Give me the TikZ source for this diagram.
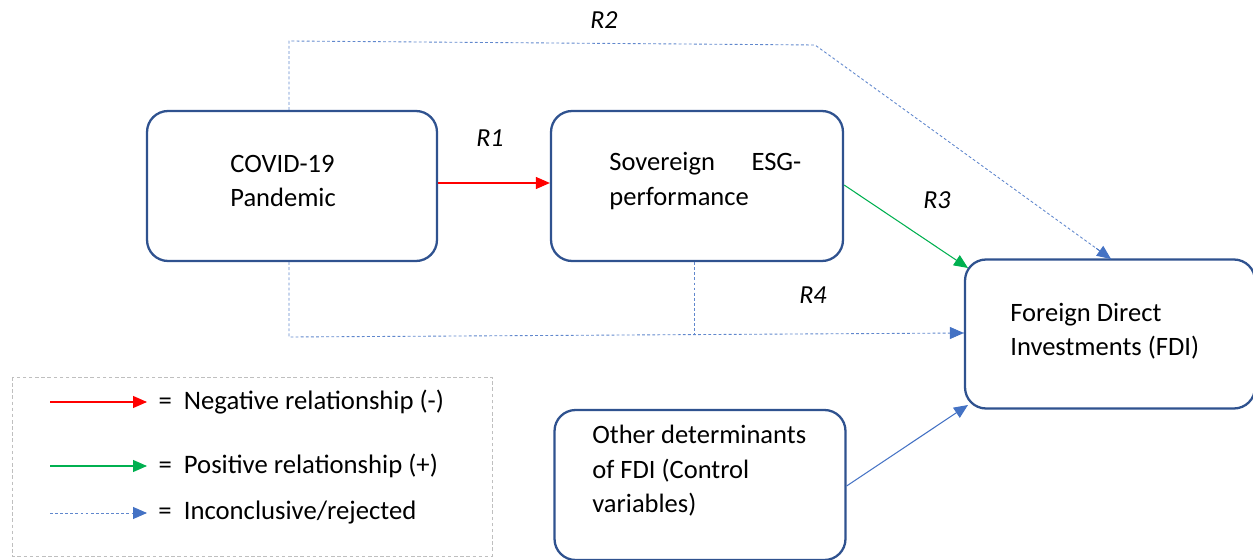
\documentclass[tikz,border=0pt]{standalone}
\usepackage{fontspec}
\setmainfont{Carlito}
\usetikzlibrary{arrows.meta,calc}
\definecolor{boxblue}{HTML}{2F528F}
\definecolor{arrblue}{HTML}{4472C4}
\definecolor{arrred}{HTML}{FF0000}
\definecolor{arrgreen}{HTML}{00B050}
\definecolor{legray}{HTML}{BFBFBF}
\begin{document}
\begin{tikzpicture}[x=0.02cm,y=-0.02cm,
  box/.style={draw=boxblue,line width=1.3pt,rounded corners=0.42cm,minimum width=#1,minimum height=3cm,inner sep=0pt},
  txt/.style={anchor=west,align=left,inner sep=0pt,font=\fontsize{15.1}{19.6}\selectfont},
  legtxt/.style={anchor=west,inner sep=0pt,black,font=\fontsize{15.2}{18}\selectfont},
  lab/.style={inner sep=0pt,font=\fontsize{14.8}{16}\selectfont\itshape},
  tip/.style={-{Triangle[length=0.28cm,width=0.24cm]}},
  redarr/.style={tip,draw=arrred,line width=0.6pt},
  greenarr/.style={tip,draw=arrgreen,line width=0.6pt},
  bluearr/.style={tip,draw=arrblue,line width=0.6pt},
  dotarr/.style={draw=arrblue!85,line width=0.5pt,dash pattern=on 1.6pt off 1.3pt},
]
\useasboundingbox (0,0) rectangle (1253,560);
% boxes
\node[box=5.8cm] (covid) at (292,186) {};
\node[box=5.84cm] (esg) at (697,186) {};
\node[box=5.8cm,minimum height=2.98cm] (fdi) at (1110,334) {};
\node[box=5.82cm] (other) at (700,485) {};
% texts
\node[txt] at (230,181) {COVID-19\\Pandemic};
\node[txt,text width=3.84cm] at (609,181) {Sovereign\hfill ESG-\\performance};
\node[txt] at (1010,331) {Foreign Direct\\Investments (FDI)};
\node[txt] at (592,471) {Other determinants\\of FDI (Control\\variables)};
% labels
\node[lab] (r1) at (490,138) {R1};
\node[lab] (r2) at (604,20) {R2};
\node[lab] (r3) at (937,200) {R3};
\node[lab] (r4) at (813,295) {R4};
% connectors
\draw[redarr] (covid.east |- 0,183) -- (esg.west |- 0,183);
\draw[greenarr] (esg.east |- 0,185) -- (968,268);
\draw[bluearr] (other.east |- 0,486) -- (968,405);
% R2
\coordinate (r2a) at (289,41);
\coordinate (r2b) at (815,45);
\coordinate (r2t) at (1111,259);
\draw[dotarr] (covid.north -| r2a) -- (r2a) -- (r2b) -- (r2t);
\draw[tip,draw=arrblue,line width=0.5pt] ($(r2b)!0.95!(r2t)$) -- (r2t);
% R4
\coordinate (r4a) at (289,337);
\coordinate (r4b) at (694,334);
\draw[dotarr] (covid.south -| r4a) -- (r4a) -- (fdi.west |- 0,333);
\draw[dotarr] (esg.south -| r4b) -- (r4b);
\draw[tip,draw=arrblue,line width=0.5pt] (950,333) -- (fdi.west |- 0,333);
% legend
\draw[legray,line width=0.5pt,dash pattern=on 2pt off 1.5pt] (12,377) rectangle (492,556);
\coordinate (l1) at (50,402);
\coordinate (l2) at (50,466);
\coordinate (l3) at (50,513);
\draw[redarr] (l1) -- ++(97,0) node[legtxt,xshift=0.22cm] {=\ \ Negative relationship (-)};
\draw[greenarr] (l2) -- ++(97,0) node[legtxt,xshift=0.22cm] {=\ \ Positive relationship (+)};
\draw[dotarr] (l3) -- ++(85,0);
\draw[tip,draw=arrblue,line width=0.5pt] (135,513) -- (147,513) node[legtxt,xshift=0.22cm] {=\ \ Inconclusive/rejected};
\end{tikzpicture}
\end{document}
